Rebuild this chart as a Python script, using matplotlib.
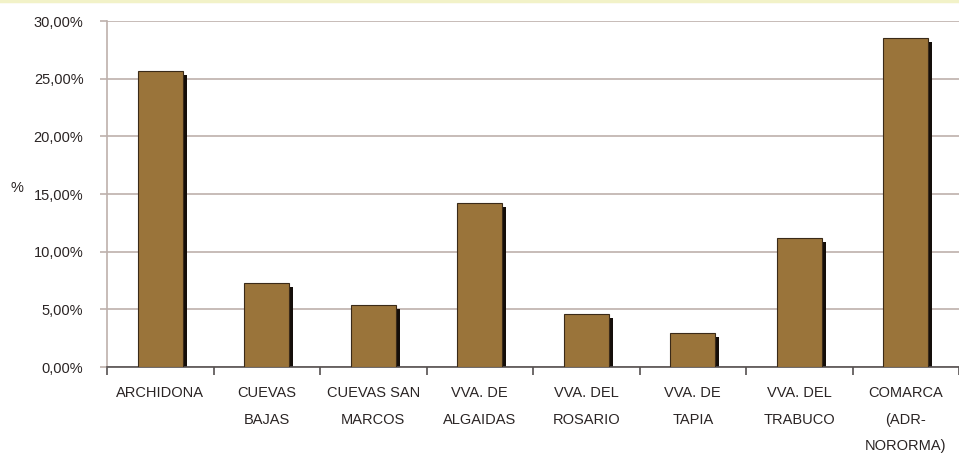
import matplotlib
matplotlib.use("Agg")
import matplotlib.pyplot as plt
import matplotlib.transforms as mtransforms
from matplotlib.lines import Line2D
import numpy as np

categories = ["ARCHIDONA", "CUEVAS\nBAJAS", "CUEVAS SAN\nMARCOS", "VVA. DE\nALGAIDAS",
              "VVA. DEL\nROSARIO", "VVA. DE\nTAPIA", "VVA. DEL\nTRABUCO", "COMARCA\n(ADR-\nNORORMA)"]
values = [25.7, 7.3, 5.4, 14.25, 4.6, 2.95, 11.2, 28.5]
yticks = [0, 5, 10, 15, 20, 25, 30]
ytick_labels = ["0,00%", "5,00%", "10,00%", "15,00%", "20,00%", "25,00%", "30,00%"]

plt.rcParams['font.family'] = ['Liberation Sans', 'DejaVu Sans']

fig = plt.figure(figsize=(9.59, 4.54), dpi=100)
fig.patch.set_facecolor('white')
ax = fig.add_axes([0.1116, 0.1916, 0.8884, 0.7621])

x = np.arange(len(categories))
text_color = '#2a2424'
grid_color = '#bdb0ac'

shadow_tr = mtransforms.offset_copy(ax.transData, fig=fig, x=4, y=-4, units='dots')
ax.bar(x, values, width=0.42, color='#140e0a', transform=shadow_tr, zorder=2)
ax.bar(x, values, width=0.42, color='#9a743a', edgecolor='#3a2a18', linewidth=0.8, zorder=3)

ax.set_xlim(-0.5, len(categories) - 0.5)
ax.set_ylim(0, 30)
ax.set_yticks(yticks)
ax.set_yticklabels(ytick_labels, fontsize=10.5, color=text_color)
ax.yaxis.grid(True, color=grid_color, linewidth=1.2, zorder=0)
ax.set_axisbelow(True)
ax.tick_params(axis='y', length=5, color=grid_color, width=1.2, pad=12)

ax.set_xticks(np.arange(len(categories) + 1) - 0.5)
ax.set_xticklabels([])
ax.tick_params(axis='x', which='major', length=6, color='#555050', width=1.2)
ax.set_xticks(x, minor=True)
ax.set_xticklabels(categories, minor=True, fontsize=10.5, color=text_color, linespacing=2.1)
ax.tick_params(axis='x', which='minor', length=0, pad=14)

for s in ['top', 'right']:
    ax.spines[s].set_visible(False)
ax.spines['left'].set_color(grid_color)
ax.spines['left'].set_linewidth(1.2)
ax.spines['bottom'].set_color('#555050')
ax.spines['bottom'].set_linewidth(1.2)

ax.set_ylabel('%', rotation=0, fontsize=10.5, color=text_color, va='center', ha='center')
ax.yaxis.set_label_coords(-0.106, 0.517)

fig.add_artist(Line2D([0, 1], [0.998, 0.998], transform=fig.transFigure, color='#f2f2c8', linewidth=2.5))

fig.savefig('out.png', dpi=100)
